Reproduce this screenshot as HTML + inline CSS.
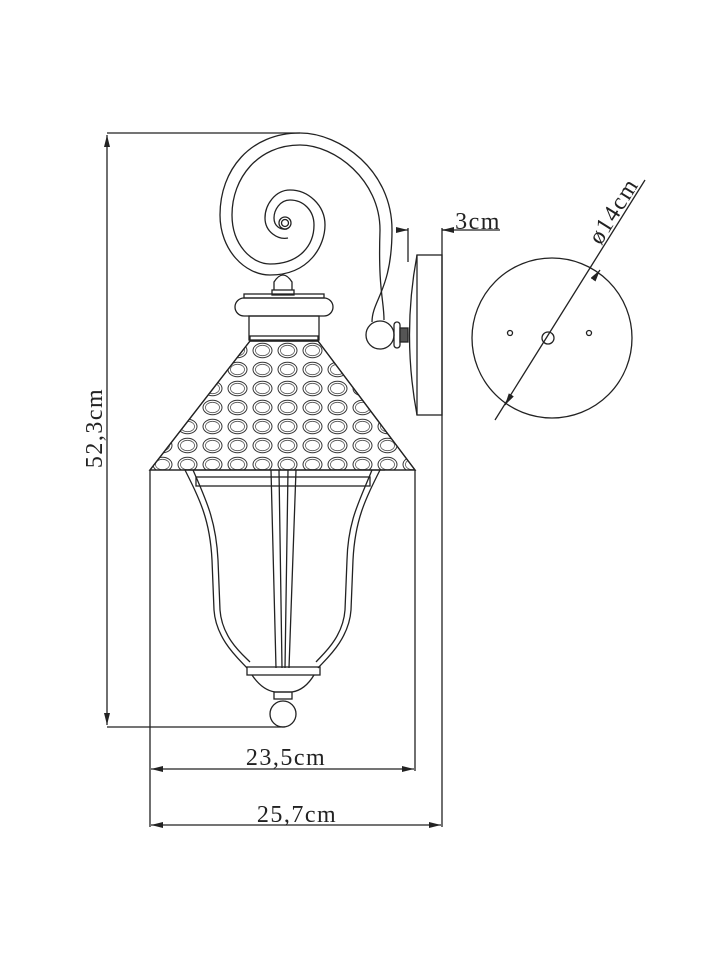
<!DOCTYPE html>
<html><head><meta charset="utf-8"><style>html,body{margin:0;padding:0;background:#fff}svg{display:block}text{font-family:"Liberation Serif",serif;font-size:24px;letter-spacing:1.5px;fill:#222;stroke:none}</style></head>
<body>
<svg width="720" height="960" viewBox="0 0 720 960" xmlns="http://www.w3.org/2000/svg" fill="none" stroke="#222" stroke-width="1.3">
<defs>
<marker id="a" markerWidth="12" markerHeight="6" refX="12" refY="3" orient="auto-start-reverse" markerUnits="userSpaceOnUse"><path d="M0,0 L12,3 L0,6z" fill="#222" stroke="none"/></marker>
<pattern id="dots" x="150" y="341" width="25" height="19" patternUnits="userSpaceOnUse">
<ellipse cx="12.5" cy="9.5" rx="9.5" ry="7.2" stroke="#333" stroke-width="1"/><ellipse cx="12.5" cy="9.5" rx="7" ry="5.2" stroke="#555" stroke-width="0.8"/>
</pattern>
</defs>
<line x1="107" y1="133" x2="300" y2="133"/>
<line x1="107" y1="727" x2="285" y2="727"/>
<line x1="107" y1="135" x2="107" y2="725" marker-start="url(#a)" marker-end="url(#a)"/>
<text x="102" y="428" transform="rotate(-90 102 428)" text-anchor="middle">52,3cm</text>
<line x1="150" y1="470" x2="150" y2="827"/>
<line x1="415" y1="470" x2="415" y2="771"/>
<line x1="151" y1="769" x2="414" y2="769" marker-start="url(#a)" marker-end="url(#a)"/>
<text x="286" y="765" text-anchor="middle">23,5cm</text>
<line x1="442" y1="228" x2="442" y2="827"/>
<line x1="151" y1="825" x2="441" y2="825" marker-start="url(#a)" marker-end="url(#a)"/>
<text x="297" y="822" text-anchor="middle">25,7cm</text>
<line x1="408" y1="228" x2="408" y2="262"/>
<line x1="442" y1="230" x2="500" y2="230"/>
<path d="M396,230 L408,230" marker-end="url(#a)"/>
<path d="M454,230 L442,230" marker-end="url(#a)"/>
<text x="478" y="229" text-anchor="middle">3cm</text>
<rect x="417" y="255" width="25" height="160"/>
<path d="M417,255 Q402,335 417,415"/>
<circle cx="380" cy="335" r="14"/>
<rect x="394" y="322" width="6" height="26" rx="3"/>
<rect x="400" y="328" width="8" height="14" fill="#555"/>
<path d="M372,322 C372,300 392,290 392,230 C392,170 340,133 300,133 C250,133 220,170 220,215 C220,250 245,275 270,275 C310,275 325,245 325,225 C325,205 308,190 290,190 C275,190 265,205 265,218 C265,232 278,240 288,238"/>
<path d="M384,320 C384,300 378,290 380,230 C380,180 335,145 300,145 C258,145 232,178 232,215 C232,245 252,264 270,264 C300,264 314,245 314,225 C314,210 303,200 290,200 C280,200 274,210 274,218 C274,226 280,230 287,229"/>
<circle cx="285" cy="223" r="6"/><circle cx="285" cy="223" r="3.5"/>
<path d="M274,290 L274,282 Q283,268 292,282 L292,290"/>
<rect x="272" y="290" width="22" height="5"/>
<rect x="244" y="294" width="80" height="4"/>
<rect x="235" y="298" width="98" height="18" rx="9"/>
<rect x="249" y="316" width="70" height="24"/>
<rect x="250" y="336" width="68" height="5"/>
<path d="M250,341 L318,341 L415,470 L150,470 Z" fill="url(#dots)"/>
<path d="M250,341 L318,341 L415,470 L150,470 Z"/>
<line x1="185" y1="470" x2="385" y2="470"/>
<rect x="196" y="477" width="174" height="9"/>
<path d="M185,470 C200,500 210,520 212,560 L214,610 C216,640 240,660 247,668"/>
<path d="M193,470 C206,500 216,520 218,560 L220,610 C222,638 243,655 250,662"/>
<path d="M380,470 C365,500 355,520 353,560 L351,610 C349,640 325,660 318,668"/>
<path d="M372,470 C360,500 348,520 347,560 L345,610 C343,638 322,655 316,662"/>
<path d="M271,470 L276,668 M279,470 L282,668 M296,470 L289,668 M288,470 L285,668"/>
<rect x="247" y="667" width="73" height="8"/>
<path d="M252,675 Q262,690 275,692 L292,692 Q305,690 314,675"/>
<rect x="274" y="692" width="18" height="7"/>
<circle cx="283" cy="714" r="13"/>
<circle cx="552" cy="338" r="80"/>
<circle cx="548" cy="338" r="6"/>
<circle cx="510" cy="333" r="2.5"/>
<circle cx="589" cy="333" r="2.5"/>
<line x1="495" y1="420" x2="645" y2="180"/>
<path d="M510,397 L505,405" marker-end="url(#a)"/>
<path d="M595,277 L600,270" marker-end="url(#a)"/>
<text x="620" y="215" transform="rotate(-58 620 215)" text-anchor="middle">ø14cm</text>
</svg>
</body></html>
